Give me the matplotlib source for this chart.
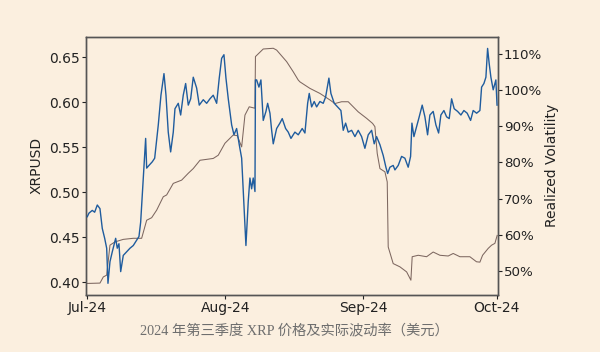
import numpy as np
import pandas as pd
import matplotlib
matplotlib.use("Agg")
import matplotlib.pyplot as plt
import matplotlib.dates as mdates
from matplotlib.ticker import PercentFormatter, MultipleLocator

# days since 2024-07-01
price_days = [0.0, 0.38, 1.12, 1.66, 2.25, 2.85, 3.37, 3.91, 4.36, 4.65, 5.1,
              5.62, 6.38, 6.74, 7.12, 7.51, 8.09, 8.85, 9.6, 10.34, 11.1, 11.62,
              12.0, 12.58, 13.12, 13.35, 13.87, 14.61, 15.15, 15.6, 15.96, 16.56,
              17.24, 17.69, 18.2, 18.74, 19.33, 19.71, 20.45, 20.99, 21.57, 22.11,
              22.7, 23.24, 23.82, 24.58, 25.17, 26.07, 26.83, 27.57, 28.31, 29.08,
              29.66, 30.2, 30.72, 31.17, 31.69, 32.45, 32.97, 33.57, 34.16, 34.7,
              35.06, 35.66, 36.18, 36.56, 36.94, 37.3, 37.69, 37.8, 38.07, 38.58,
              39.03, 39.55, 40.16, 40.54, 41.06, 41.44, 41.8, 42.56, 43.3, 43.82,
              44.58, 45.17, 45.78, 46.67, 47.42, 48.31, 48.92, 49.53, 49.89, 50.43,
              51.01, 51.55, 52.29, 53.03, 53.57, 54.31, 54.76, 55.51, 56.27, 57.01,
              57.53, 58.07, 58.65, 59.42, 60.16, 60.9, 61.66, 62.4, 63.15, 63.91,
              64.49, 65.03, 65.78, 66.52, 67.12, 67.51, 68.02, 68.76, 69.15, 69.89,
              70.65, 71.39, 72.13, 72.67, 72.97, 73.42, 74.02, 74.61, 75.28, 75.89,
              76.49, 77.01, 77.75, 78.36, 78.97, 79.48, 80.16, 80.76, 81.35, 81.89,
              82.47, 83.24, 83.98, 84.65, 85.39, 86.16, 86.74, 87.51, 88.25, 88.63,
              89.15, 89.6, 89.98, 90.34, 90.72, 91.24, 91.84, 92.1]
price = [0.473, 0.477, 0.480, 0.478, 0.486, 0.482, 0.460, 0.449, 0.438, 0.399,
         0.423, 0.434, 0.449, 0.438, 0.443, 0.412, 0.430, 0.434, 0.438, 0.441,
         0.447, 0.451, 0.467, 0.516, 0.560, 0.527, 0.530, 0.534, 0.538, 0.558,
         0.575, 0.608, 0.632, 0.608, 0.567, 0.545, 0.567, 0.593, 0.599, 0.586,
         0.608, 0.621, 0.597, 0.604, 0.628, 0.616, 0.597, 0.603, 0.599, 0.604,
         0.608, 0.599, 0.627, 0.649, 0.653, 0.627, 0.604, 0.575, 0.564, 0.571,
         0.553, 0.538, 0.501, 0.441, 0.490, 0.516, 0.504, 0.516, 0.501, 0.625,
         0.625, 0.617, 0.625, 0.580, 0.590, 0.599, 0.588, 0.569, 0.554, 0.571,
         0.577, 0.582, 0.571, 0.567, 0.560, 0.567, 0.564, 0.571, 0.566, 0.599,
         0.610, 0.595, 0.601, 0.595, 0.601, 0.599, 0.606, 0.627, 0.610, 0.599,
         0.595, 0.591, 0.569, 0.577, 0.567, 0.569, 0.562, 0.569, 0.562, 0.549,
         0.564, 0.569, 0.554, 0.562, 0.553, 0.541, 0.528, 0.521, 0.528, 0.530,
         0.525, 0.530, 0.540, 0.538, 0.528, 0.540, 0.577, 0.562, 0.573, 0.584,
         0.597, 0.584, 0.564, 0.586, 0.590, 0.575, 0.566, 0.586, 0.591, 0.584,
         0.582, 0.604, 0.593, 0.590, 0.586, 0.591, 0.588, 0.580, 0.591, 0.588,
         0.591, 0.617, 0.621, 0.628, 0.660, 0.643, 0.628, 0.614, 0.625, 0.597]

vol_days = [0.0, 2.85, 3.6, 4.36, 5.1, 6.22, 8.09, 10.34, 12.22, 13.35, 14.47,
            15.6, 17.08, 17.84, 19.33, 21.21, 22.7, 23.82, 25.33, 28.31, 29.44,
            30.94, 32.81, 33.71, 34.7, 35.44, 36.4, 37.69, 37.8, 39.55, 41.8,
            42.56, 44.81, 46.29, 47.42, 47.8, 50.04, 52.29, 54.53, 55.66, 57.17,
            58.65, 60.9, 62.79, 64.13, 64.65, 65.17, 65.78, 66.9, 67.42, 67.64,
            68.76, 70.27, 71.78, 72.74, 73.03, 74.38, 76.27, 77.75, 79.26, 81.12,
            82.25, 83.75, 85.99, 87.49, 88.25, 88.85, 90.11, 90.88, 91.62, 92.13]
vol = [46.5, 46.6, 48.3, 48.8, 57.1, 58.0, 58.7, 59.0, 59.0, 64.0, 64.7, 66.8,
       70.5, 71.0, 74.2, 75.1, 77.0, 78.3, 80.6, 81.1, 82.0, 85.3, 87.6, 87.4,
       84.3, 93.1, 95.4, 95.0, 109.3, 111.4, 111.6, 111.1, 107.9, 105.1, 102.8,
       102.3, 100.5, 99.1, 97.3, 96.3, 96.8, 96.8, 94.0, 92.2, 90.8, 89.9, 82.5,
       78.3, 77.4, 74.6, 56.6, 52.0, 51.1, 49.7, 47.4, 53.9, 54.3, 53.9, 55.2,
       54.3, 54.1, 54.8, 53.9, 53.9, 52.5, 52.4, 54.3, 56.2, 57.1, 57.6, 59.8]

start = pd.Timestamp("2024-07-01")
t_price = start + pd.to_timedelta(price_days, unit="D")
t_vol = start + pd.to_timedelta(vol_days, unit="D")

bg = "#fbefdf"
fig = plt.figure(figsize=(6, 3.52), dpi=100, facecolor=bg)
ax = fig.add_axes([0.1433, 0.1619, 0.6862, 0.7338])
ax.set_facecolor(bg)
ax2 = ax.twinx()

ax.plot(t_price, price, color="#1f5c9e", lw=1.0, zorder=3)
ax2.plot(t_vol, vol, color="#7d6760", lw=0.75)
ax.set_zorder(ax2.get_zorder() + 1)
ax.patch.set_visible(False)
ax2.patch.set_facecolor(bg)

ax.set_xlim(start - pd.Timedelta(hours=7), start + pd.Timedelta(days=92.25))
ax.set_ylim(0.386, 0.673)
ax2.set_ylim(43.3, 114.8)

ax.xaxis.set_major_locator(mdates.MonthLocator())
ax.xaxis.set_major_formatter(mdates.DateFormatter("%b-%y"))
ax.yaxis.set_major_locator(MultipleLocator(0.05))
ax.yaxis.set_major_formatter(plt.FormatStrFormatter("%.2f"))
ax2.yaxis.set_major_locator(MultipleLocator(10))
ax2.yaxis.set_major_formatter(PercentFormatter(decimals=0))

for a in (ax, ax2):
    a.tick_params(labelsize=10, colors="#222222", length=3, width=0.8, pad=1.5)
    for s in a.spines.values():
        s.set_color("#555555")
        s.set_linewidth(1.0)
ax2.tick_params(labelsize=9.6)

ax.set_ylabel("XRPUSD", fontsize=10, color="#222222", labelpad=4)
ax2.set_ylabel("Realized Volatility", fontsize=10, color="#222222", labelpad=2)

fig.text(0.49, 0.058, "2024 年第三季度 XRP 价格及实际波动率（美元）",
         ha="center", va="center", fontsize=10.3, color="#6e6e6e",
         family=["Liberation Serif", "Noto Sans CJK SC"])

fig.savefig("out.png", dpi=100, facecolor=bg)
